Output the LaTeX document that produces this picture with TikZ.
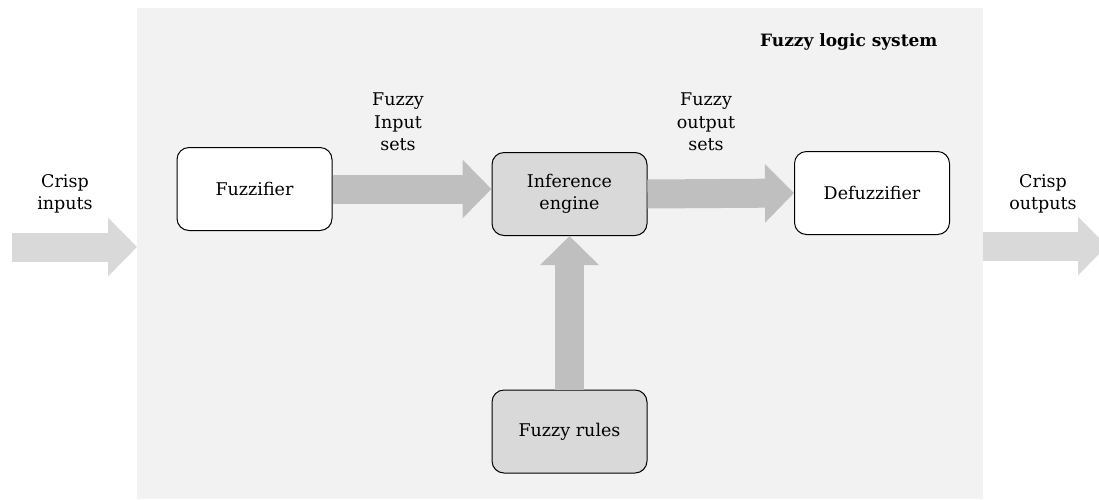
\documentclass[tikz,border=0pt]{standalone}
\usepackage{fontspec}
\setmainfont{DejaVu Serif}
\usetikzlibrary{arrows.meta}

\definecolor{panelgray}{gray}{0.95}
\definecolor{boxgray}{gray}{0.85}
\definecolor{flowgray}{gray}{0.75}
\definecolor{iogray}{gray}{0.85}

\begin{document}
\begin{tikzpicture}[x=1pt, y=-1pt,
		block/.style={draw=black, line width=1pt, rounded corners=12pt, minimum width=155pt, minimum height=83pt, align=center, font=\fontsize{17.5}{22.5}\selectfont},
		flow/.style={line width=29pt, draw=#1, -{Triangle[length=29pt, width=57pt, fill=#1, color=#1]}},
		lbl/.style={align=center, font=\fontsize{17.5}{22.5}\selectfont}]
			%%%%% START %%%%%
			
			\useasboundingbox (0, 0) rectangle (1099, 499);
			\fill[panelgray] (137, 8) rectangle (983, 499);
			
			\node[font=\bfseries\fontsize{17}{22.5}\selectfont, anchor=east] (title) at (941, 42) {Fuzzy logic system};
			
			\node[block, fill=white] (fuzz) at (254.5, 189) {Fuzzifier};
			\node[block, fill=boxgray] (inf) at (569.5, 194) {Inference\\engine};
			\node[block, fill=white] (defuzz) at (872, 193) {Defuzzifier};
			\node[block, fill=boxgray] (rules) at (569.5, 431.5) {Fuzzy rules};
			
			\coordinate (inL) at (12, 247);
			\coordinate (inR) at (137, 247);
			\coordinate (outL) at (983, 246);
			\coordinate (outR) at (1107, 246);
			
			\draw[flow=iogray] (inL) -- (inR);
			\draw[flow=iogray] (outL) -- (outR);
			
			\draw[flow=flowgray] (fuzz.east) -- (fuzz.east -| inf.west);
			\draw[flow=flowgray] (inf.east) -- (defuzz.west);
			\draw[flow=flowgray] (rules.north) -- (inf.south);
			
			\node[lbl] (crispin) at (65, 194) {Crisp\\inputs};
			\node[lbl] (crispout) at (1043, 194) {Crisp\\outputs};
			\node[lbl] (fuzzyin) at (398, 122) {Fuzzy\\Input\\sets};
			\node[lbl] (fuzzyout) at (706, 122) {Fuzzy\\output\\sets};
			
			%%%%% END %%%%%
		\end{tikzpicture}
\end{document}
